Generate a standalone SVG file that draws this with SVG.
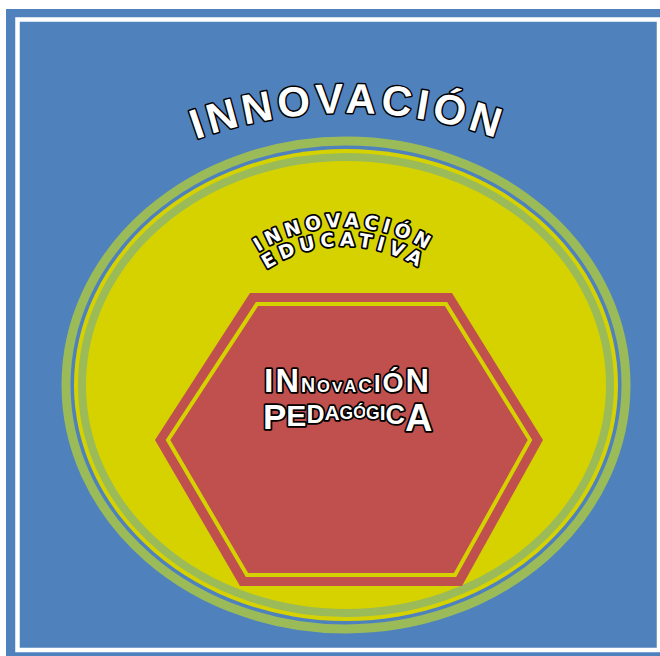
<svg xmlns="http://www.w3.org/2000/svg" width="660" height="656" viewBox="0 0 660 656">
<style>
.wa{fill:#fff;stroke:#000;paint-order:stroke;stroke-linejoin:round;font-family:"Liberation Sans",Arial,sans-serif;font-weight:bold}
.t1{font-size:42px;letter-spacing:4.5px;stroke-width:3}
.t2{font-family:"DejaVu Sans",sans-serif;font-size:19px;stroke-width:3.5}
.t3{stroke-width:3.5}
</style>
<defs>
<path id="arcTitle" d="M 48 227.6 A 450 450 0 0 1 648 227.6"/>
<path id="arcEdu1" d="M 185 386 A 159 159 0 0 1 503 386"/>
<path id="arcEdu2" d="M 203 387 A 141 141 0 0 1 485 387"/>
</defs>
<g id="fondo">
<rect x="6" y="9" width="654" height="647" fill="#4F81BD"/>
<rect x="17.5" y="19.5" width="641.5" height="630.5" fill="none" stroke="#fff" stroke-width="4.5"/>
</g>
<g id="innovacion">
<text class="wa t1" text-anchor="middle"><textPath href="#arcTitle" startOffset="50%">INNOVACIÓN</textPath></text>
</g>
<g id="innovacion-educativa">
<ellipse cx="346" cy="385" rx="280" ry="244" fill="none" stroke="#9BBB59" stroke-width="9"/>
<ellipse cx="346" cy="385" rx="272" ry="236" fill="#D6D200"/>
<ellipse cx="346" cy="385" rx="264" ry="228" fill="#D6D200" stroke="#9BBB59" stroke-width="8"/>
<text class="wa t2" text-anchor="middle" letter-spacing="4.5"><textPath href="#arcEdu1" startOffset="50%">INNOVACIÓN</textPath></text>
<text class="wa t2" text-anchor="middle" letter-spacing="5"><textPath href="#arcEdu2" startOffset="50%">EDUCATIVA</textPath></text>
</g>
<g id="innovacion-pedagogica">
<polygon points="250,293 452,293 543,440 462,586 240,586 155,440" fill="#C0504D"/>
<polygon points="257,304 446,304 530,440 455,575 247,575 168,440" fill="none" stroke="#D6D200" stroke-width="4"/>
<text class="wa t3" x="264" y="392" letter-spacing="2"><tspan font-size="34">I</tspan><tspan font-size="32.5">N</tspan><tspan font-size="19.5">N</tspan><tspan font-size="16.5">O</tspan><tspan font-size="15.5">V</tspan><tspan font-size="16.5">A</tspan><tspan font-size="19">C</tspan><tspan font-size="23.5">I</tspan><tspan font-size="27">Ó</tspan><tspan font-size="32.5">N</tspan></text>
<text class="wa t3" x="263" y="429"><tspan font-size="35" y="429">P</tspan><tspan font-size="30" y="426">E</tspan><tspan font-size="25" y="423">D</tspan><tspan font-size="21" y="420">A</tspan><tspan font-size="17.5" y="419">G</tspan><tspan font-size="16.5" y="418">Ó</tspan><tspan font-size="17.5" y="419">G</tspan><tspan font-size="21" y="420">I</tspan><tspan font-size="27" y="424">C</tspan><tspan font-size="38" y="431">A</tspan></text>
</g>
<g id="connectors"/>
</svg>
